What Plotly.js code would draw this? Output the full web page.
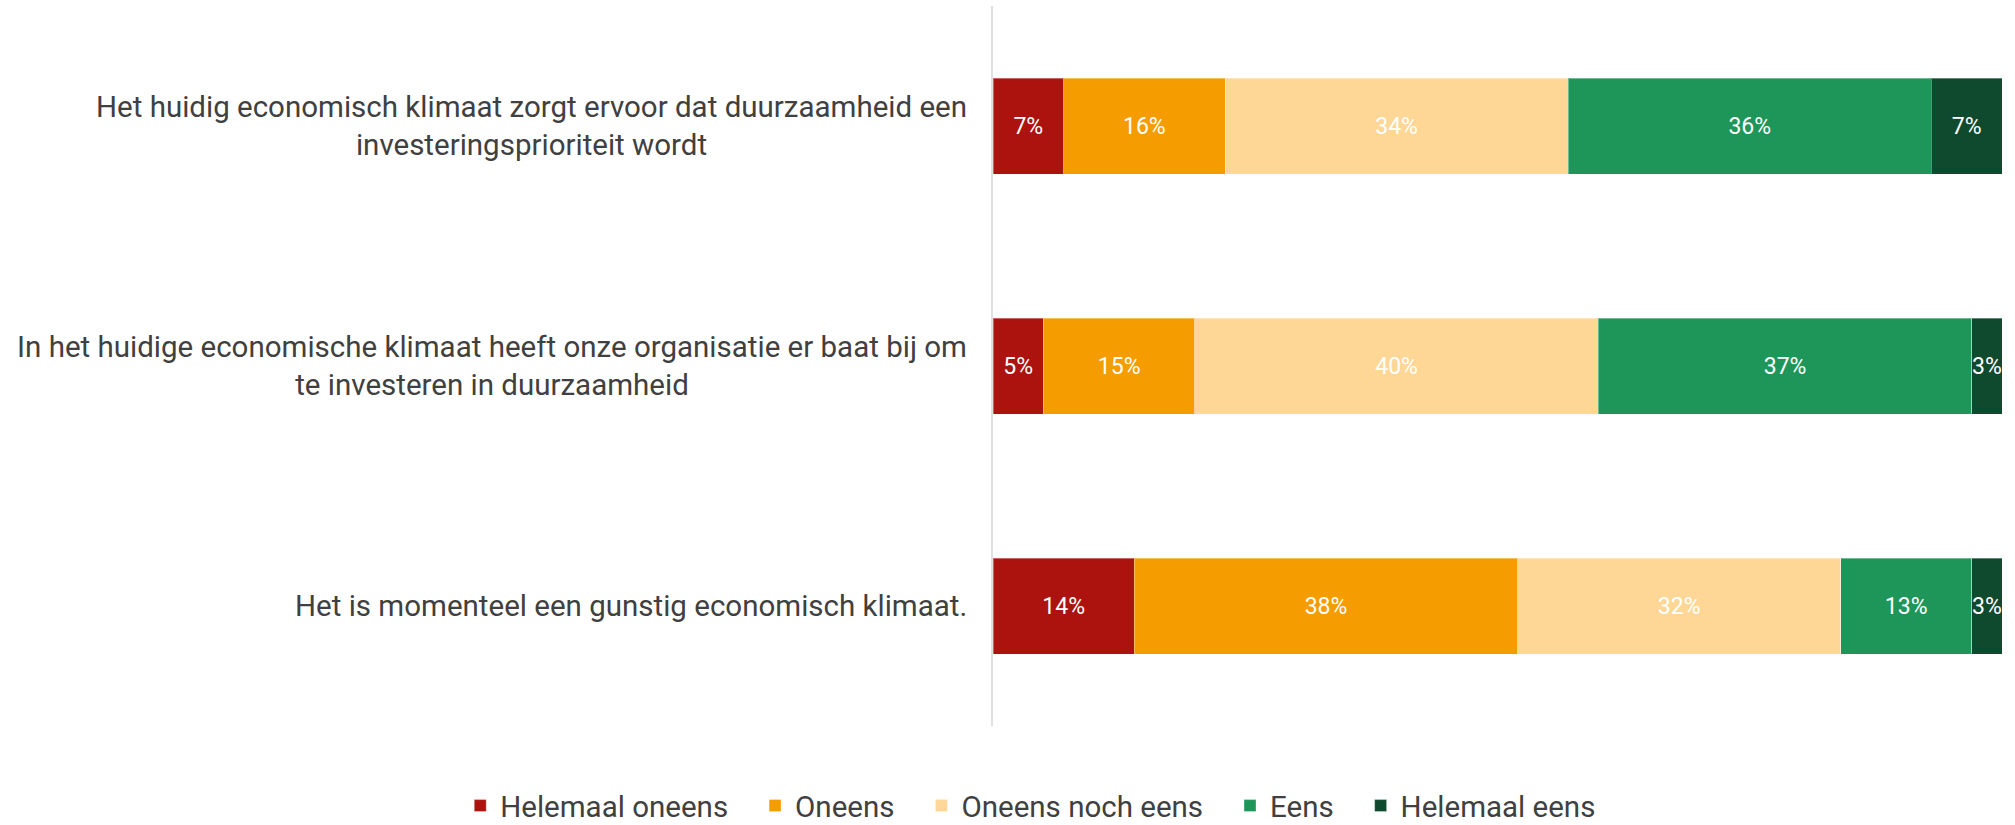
<!DOCTYPE html>
<html><head><meta charset="utf-8">
<script src="https://cdn.plot.ly/plotly-3.0.1.min.js"></script>
<style>html,body{margin:0;padding:0;background:#fff;}#chart{width:2015px;height:825px;}</style>
</head><body><div id="chart"></div>
<script>
const categories = [
  "Het huidig economisch klimaat zorgt ervoor dat duurzaamheid een<br>investeringsprioriteit wordt",
  "In het huidige economische klimaat heeft onze organisatie er baat bij om<br>te investeren in duurzaamheid",
  "Het is momenteel een gunstig economisch klimaat."
];
const seriesNames = ["Helemaal oneens", "Oneens", "Oneens noch eens", "Eens", "Helemaal eens"];
const helemaalOneens = [7, 5, 14];
const oneens = [16, 15, 38];
const noch = [34, 40, 32];
const eens = [36, 37, 13];
const helemaalEens = [7, 3, 3];
const seriesValues = [helemaalOneens, oneens, noch, eens, helemaalEens];
const colors = ["#AC120E", "#F59C00", "#FED796", "#1E965A", "#0F4A2E"];

const pad = "\u00a0\u00a0\u00a0";
const traces = seriesValues.map((vals, i) => ({
  type: "bar",
  orientation: "h",
  name: seriesNames[i] + (i < seriesNames.length - 1 ? pad : ""),
  y: categories,
  x: vals,
  marker: {color: colors[i], line: {width: 1, color: "rgba(255,255,255,0.35)"}},
  text: vals.map(v => v + "%"),
  textposition: "inside",
  insidetextanchor: "middle",
  textangle: 0,
  constraintext: "none",
  textfont: {family: "Roboto", size: 23, color: "#ffffff"},
  hoverinfo: "skip"
}));

const annotations = categories.map(c => ({
  xref: "paper", yref: "y", x: -0.024, y: c, xanchor: "right", yanchor: "middle",
  text: c, showarrow: false, align: "center",
  font: {family: "Roboto", size: 29.5, color: "#404040"}
}));

const layout = {
  width: 2015, height: 825,
  margin: {l: 993, r: 13, t: 6, b: 99, autoexpand: false},
  paper_bgcolor: "#ffffff", plot_bgcolor: "#ffffff",
  barmode: "stack",
  bargap: 0.6,
  xaxis: {range: [0, 100], visible: false, showgrid: false, zeroline: false, fixedrange: true},
  yaxis: {type: "category", autorange: "reversed", showticklabels: false, ticks: "", showgrid: false, zeroline: false,
          showline: true, linecolor: "#e0e0e0", linewidth: 2},
  showlegend: true,
  legend: {orientation: "h", xref: "paper", yref: "paper", x: -0.528, xanchor: "left", y: -0.111, yanchor: "middle",
           font: {family: "Roboto", size: 29.5, color: "#404040"}, traceorder: "normal"},
  annotations: annotations
};

Plotly.newPlot("chart", traces, layout, {displayModeBar: false, staticPlot: true});
</script></body></html>
